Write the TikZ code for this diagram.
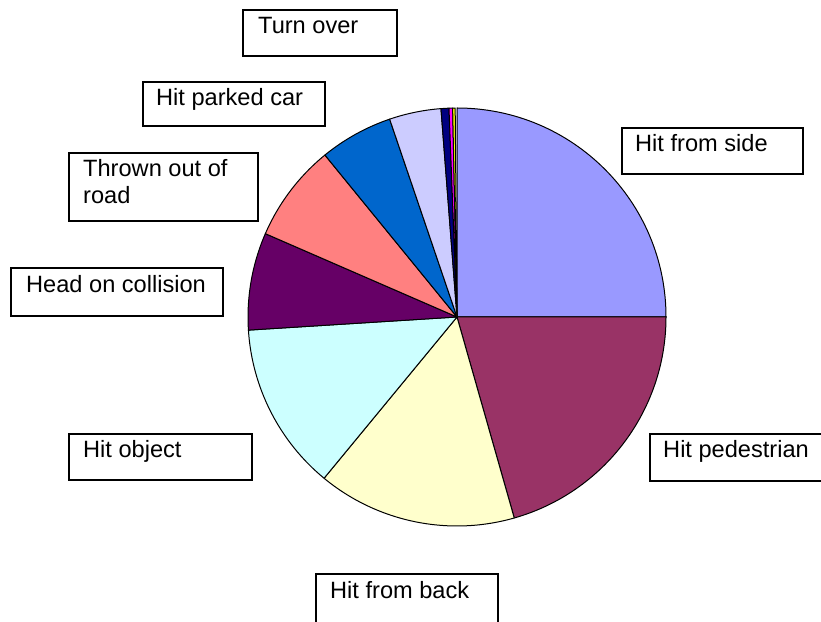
\documentclass[tikz,border=0pt]{standalone}
\usepackage{fontspec}
\setmainfont{Liberation Sans}
\definecolor{cside}{HTML}{9999FF}
\definecolor{cped}{HTML}{993366}
\definecolor{cback}{HTML}{FFFFCC}
\definecolor{cobj}{HTML}{CCFFFF}
\definecolor{chead}{HTML}{660066}
\definecolor{cthrown}{HTML}{FF8080}
\definecolor{cparked}{HTML}{0066CC}
\definecolor{clav}{HTML}{CCCCFF}
\definecolor{cnavy}{HTML}{000080}
\definecolor{cmag}{HTML}{FF00FF}
\definecolor{cyel}{HTML}{FFFF00}
\tikzset{
  labelbox/.style={draw=black, line width=1.6pt, fill=white, anchor=north west,
    inner sep=0pt, minimum width=#1},
  labeltext/.style={anchor=base west, inner sep=0pt, align=left,
    font=\fontsize{23.6}{26.7}\selectfont},
  slice/.style={draw=black, line width=1pt, line join=round}
}
% one pie sector: colour, start angle, end angle (clockwise)
\newcommand{\piesector}[3]{%
  \filldraw[slice, fill=#1] (pc) -- ++(#2:209) arc[start angle=#2, end angle=#3, radius=209] -- cycle;}
\begin{document}
\begin{tikzpicture}[x=1pt, y=1pt]
\useasboundingbox (0,0) rectangle (821,621);
\fill[white] (0,0) rectangle (821,621);
\coordinate (pc) at (457,304);

% pie sectors, clockwise from the top
\piesector{cside}{90}{0}
\piesector{cped}{0}{-74.1}
\piesector{cback}{-74.1}{-129.5}
\piesector{cobj}{-129.5}{-176.4}
\piesector{chead}{183.6}{156.5}
\piesector{cthrown}{156.5}{129.2}
\piesector{cparked}{129.2}{108.8}
\piesector{clav}{108.8}{94.4}
\piesector{cnavy}{94.4}{92.2}
\piesector{cmag}{92.2}{91.2}
\piesector{cyel}{91.2}{90.5}

% label boxes
\node[labelbox=154pt, minimum height=46pt] (bturn) at (242,612) {};
\node[labeltext] (tturn) at ([xshift=16pt,yshift=-25pt]bturn.north west) {Turn over};

\node[labelbox=182pt, minimum height=44pt] (bparked) at (142,540) {};
\node[labeltext] (tparked) at ([xshift=14pt,yshift=-25pt]bparked.north west) {Hit parked car};

\node[labelbox=189pt, minimum height=68pt] (bthrown) at (68,469) {};
% the base anchor of a two-line node sits on its last line
\node[labeltext] (tthrown) at ([xshift=15pt,yshift=-51.7pt]bthrown.north west) {Thrown out of\\road};

\node[labelbox=212pt, minimum height=48pt] (bhead) at (10,354) {};
\node[labeltext] (thead) at ([xshift=16pt,yshift=-26pt]bhead.north west) {Head on collision};

\node[labelbox=181pt, minimum height=46pt] (bside) at (621,494) {};
\node[labeltext] (tside) at ([xshift=14pt,yshift=-25pt]bside.north west) {Hit from side};

\node[labelbox=190pt, minimum height=47pt] (bped) at (649,188) {};
\node[labeltext] (tped) at ([xshift=14pt,yshift=-25pt]bped.north west) {Hit pedestrian};

\node[labelbox=183pt, minimum height=46pt] (bobj) at (68,188) {};
\node[labeltext] (tobj) at ([xshift=15pt,yshift=-25pt]bobj.north west) {Hit object};

\node[labelbox=182pt, minimum height=52pt] (bback) at (315,48) {};
\node[labeltext] (tback) at ([xshift=15pt,yshift=-25pt]bback.north west) {Hit from back};
\end{tikzpicture}
\end{document}
